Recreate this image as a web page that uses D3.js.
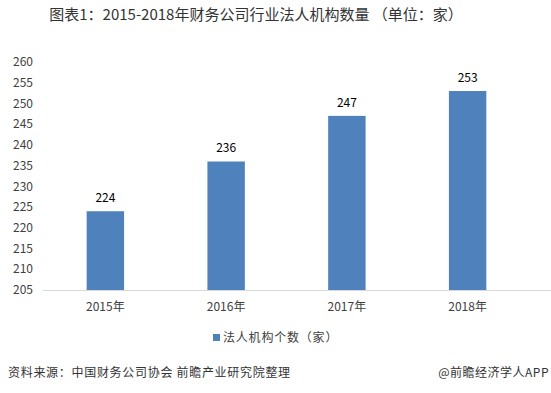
<!DOCTYPE html>
<html>
<head>
<meta charset="utf-8">
<script src="https://cdn.jsdelivr.net/npm/d3@7"></script>
<style>
  body { margin: 0; background: #fff; }
  svg { display: block; font-family: "Noto Sans CJK SC", "Noto Sans", sans-serif; }
</style>
</head>
<body>
<div id="chart"></div>
<script>
var years = ["2015年", "2016年", "2017年", "2018年"];
var counts = [224, 236, 247, 253];
var yTicks = [205, 210, 215, 220, 225, 230, 235, 240, 245, 250, 255, 260];
var seriesName = "法人机构个数（家）";
var title = "图表1：2015-2018年财务公司行业法人机构数量 （单位：家）";
var source = "资料来源：中国财务公司协会 前瞻产业研究院整理";
var credit = "@前瞻经济学人APP";

var W = 551, H = 393;
var svg = d3.select("#chart").append("svg")
    .attr("width", W)
    .attr("height", H);

var x = d3.scaleBand()
    .domain(years)
    .range([45, 528])
    .paddingInner(0.69)
    .paddingOuter(0.345);

var y = d3.scaleLinear()
    .domain([205, 260])
    .range([290, 62]);

// title
svg.append("text")
    .attr("x", 256)
    .attr("y", 20)
    .attr("text-anchor", "middle")
    .attr("font-size", "15px")
    .attr("fill", "#333")
    .text(title);

// y axis labels
svg.selectAll(".ylab")
    .data(yTicks)
    .enter()
    .append("text")
    .attr("class", "ylab")
    .attr("x", 33)
    .attr("y", function(d){ return y(d); })
    .attr("dy", "0.35em")
    .attr("text-anchor", "end")
    .attr("font-size", "12px")
    .attr("fill", "#404040")
    .text(function(d){ return d; });

// bars
svg.selectAll(".bar")
    .data(counts)
    .enter()
    .append("rect")
    .attr("class", "bar")
    .attr("x", function(d, i){ return x(years[i]); })
    .attr("y", function(d){ return y(d); })
    .attr("width", x.bandwidth())
    .attr("height", function(d){ return y(205) - y(d); })
    .attr("fill", "#4f81bd");

// value labels
svg.selectAll(".val")
    .data(counts)
    .enter()
    .append("text")
    .attr("class", "val")
    .attr("x", function(d, i){ return x(years[i]) + x.bandwidth() / 2; })
    .attr("y", function(d){ return y(d) - 9; })
    .attr("text-anchor", "middle")
    .attr("font-size", "12px")
    .attr("fill", "#000")
    .text(function(d){ return d; });

// baseline
svg.append("line")
    .attr("x1", 43)
    .attr("x2", 551)
    .attr("y1", y(205) + 0.5)
    .attr("y2", y(205) + 0.5)
    .attr("stroke", "#d9d9d9");

// x labels
svg.selectAll(".xlab")
    .data(years)
    .enter()
    .append("text")
    .attr("class", "xlab")
    .attr("x", function(d){ return x(d) + x.bandwidth() / 2; })
    .attr("y", 311)
    .attr("text-anchor", "middle")
    .attr("font-size", "12px")
    .attr("fill", "#404040")
    .text(function(d){ return d; });

// legend
svg.append("rect")
    .attr("x", 213)
    .attr("y", 334)
    .attr("width", 7)
    .attr("height", 7)
    .attr("fill", "#4f81bd");
svg.append("text")
    .attr("x", 223)
    .attr("y", 341.5)
    .attr("font-size", "12px")
    .attr("letter-spacing", "0.8px")
    .attr("fill", "#404040")
    .text(seriesName);

// footer
svg.append("text")
    .attr("x", 8)
    .attr("y", 377)
    .attr("font-size", "12px")
    .attr("letter-spacing", "0.7px")
    .attr("fill", "#333")
    .text(source);
svg.append("text")
    .attr("x", 549)
    .attr("y", 377)
    .attr("text-anchor", "end")
    .attr("font-size", "12px")
    .attr("letter-spacing", "0.5px")
    .attr("fill", "#333")
    .text(credit);
</script>
</body>
</html>
